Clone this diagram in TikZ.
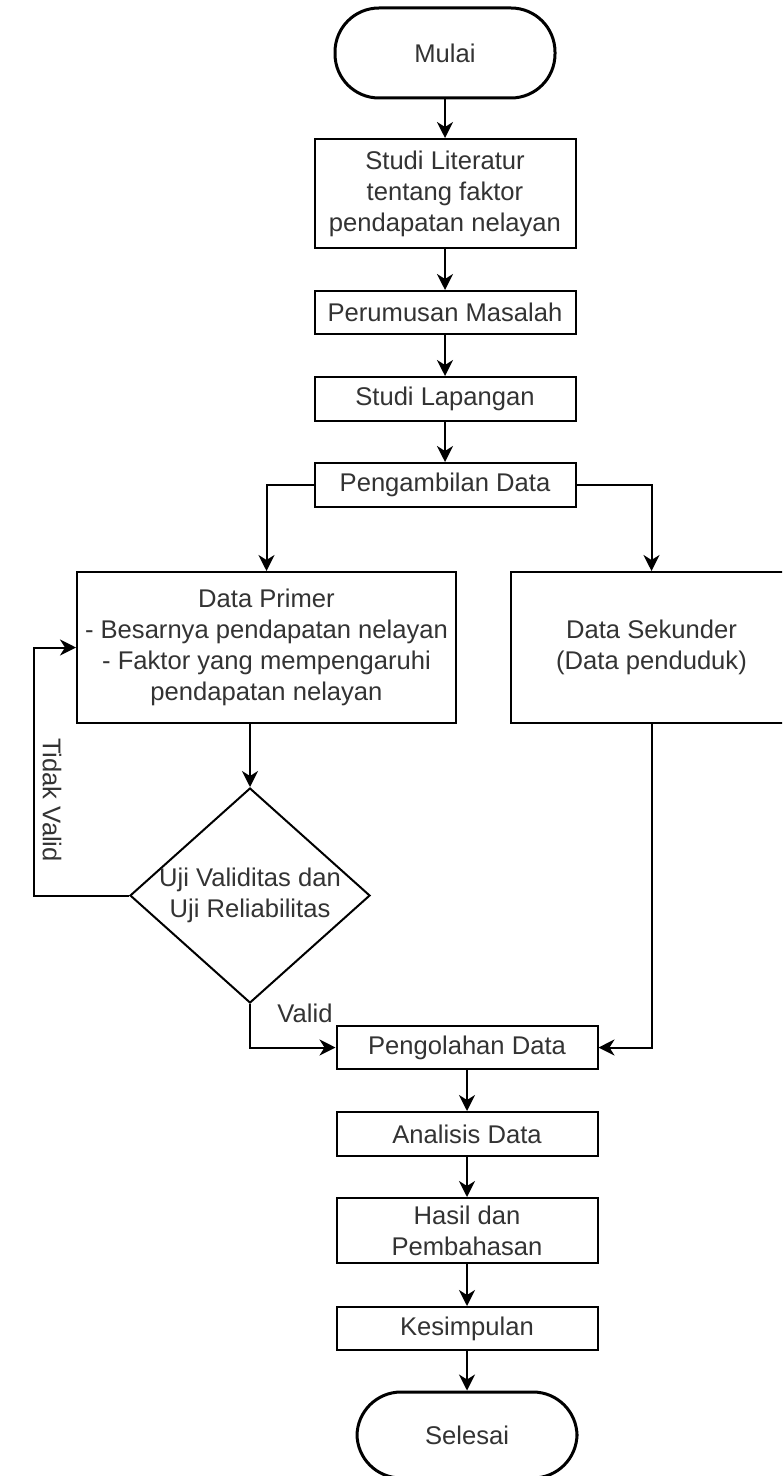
\documentclass[tikz,border=0pt]{standalone}
\usepackage{fontspec}
\setmainfont{Liberation Sans}
\usetikzlibrary{shapes.geometric,arrows.meta}
\definecolor{txt}{HTML}{333333}
\begin{document}
\begin{tikzpicture}[x=0.5pt,y=-0.5pt,
  every node/.style={text=txt,font=\fontsize{12.8}{15.5}\selectfont},
  box/.style={draw=black,line width=1pt,rectangle,inner sep=0pt,align=center,minimum width=130.5pt},
  term/.style={draw=black,line width=1.5pt,rectangle,inner sep=0pt,rounded corners=22pt,align=center},
  dec/.style={draw=black,line width=1pt,diamond,inner sep=0pt,minimum width=120pt,minimum height=107.5pt},
  arr/.style={draw=black,line width=1pt,-{Stealth[length=8pt,width=8pt,inset=2.5pt]}}]
\clip (0,0) rectangle (782,1476);
\fill[white] (0,0) rectangle (782,1476);
\node[term,minimum width=110pt,minimum height=45pt] (mulai) at (445,53) {Mulai};
\node[box,minimum height=54.5pt] (lit) at (445,193.5) {Studi Literatur\\tentang faktor\\pendapatan nelayan};
\node[box,minimum height=21.5pt] (rum) at (445,312.5) {Perumusan Masalah};
\node[box,minimum height=22pt] (lap) at (445,399) {Studi Lapangan};
\node[box,minimum height=22pt] (ambil) at (445,485) {Pengambilan Data};
\node[box,minimum width=189.5pt,minimum height=75.5pt] (primer) at (266.5,647.5) {Data Primer\\- Besarnya pendapatan nelayan\\- Faktor yang mempengaruhi\\pendapatan nelayan};
\node[box,minimum width=140.5pt,minimum height=75.5pt] (sekunder) at (651.5,647.5) {Data Sekunder\\(Data penduduk)};
\node[dec] (dia) at (250,895.5) {};
\node[align=center,inner sep=0pt] (diat) at (dia.center) {Uji Validitas dan\\Uji Reliabilitas};
\node[box,minimum height=21.5pt] (olah) at (467,1047.5) {Pengolahan Data};
\node[box,minimum height=22pt] (anal) at (467,1134) {Analisis Data};
\node[box,minimum height=32.5pt] (hasil) at (467,1230.5) {Hasil dan\\Pembahasan};
\node[box,minimum height=21.5pt] (kes) at (467,1328.5) {Kesimpulan};
\node[term,minimum width=110pt,minimum height=43pt] (selesai) at (467,1435) {Selesai};
\node[inner sep=0pt] (lvalid) at (305,1013) {Valid};
\node[inner sep=0pt,rotate=-90] (ltidak) at (52,800) {Tidak Valid};
\coordinate (tv) at (34,895.5);
\draw[arr] (mulai.south) -- (lit.north);
\draw[arr] (lit.south) -- (rum.north);
\draw[arr] (rum.south) -- (lap.north);
\draw[arr] (lap.south) -- (ambil.north);
\draw[arr] (ambil.west) -| (primer.north);
\draw[arr] (ambil.east) -| (sekunder.north);
\draw[arr] (primer.south -| dia.north) -- (dia.north);
\draw[arr] (dia.west) -- (tv) |- (primer.west);
\draw[arr] (dia.south) |- (olah.west);
\draw[arr] (sekunder.south) |- (olah.east);
\draw[arr] (olah.south) -- (anal.north);
\draw[arr] (anal.south) -- (hasil.north);
\draw[arr] (hasil.south) -- (kes.north);
\draw[arr] (kes.south) -- (selesai.north);
\end{tikzpicture}
\end{document}
